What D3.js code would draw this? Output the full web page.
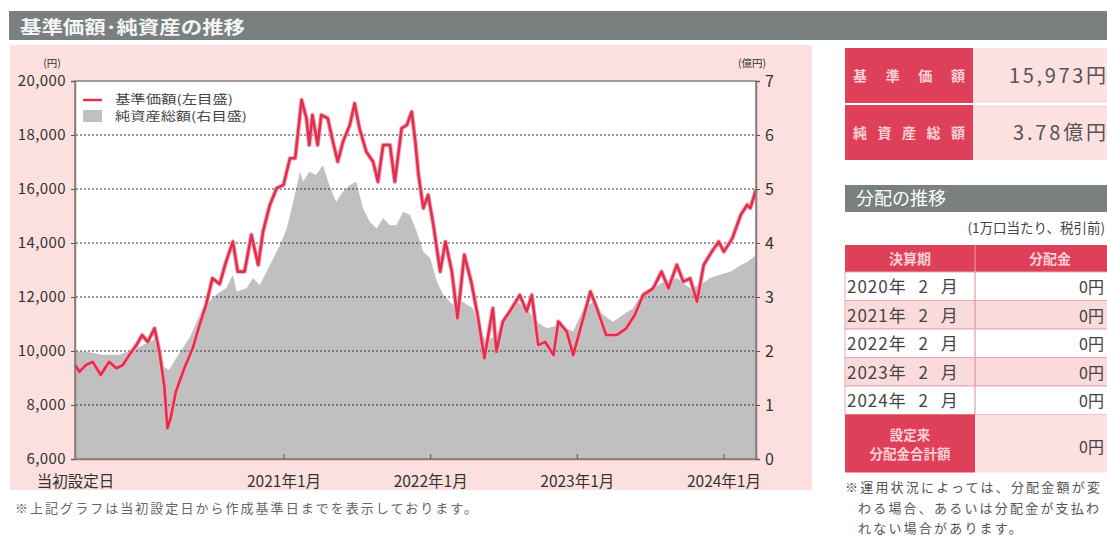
<!DOCTYPE html>
<html>
<head>
<meta charset="utf-8">
<script src="https://cdnjs.cloudflare.com/ajax/libs/d3/7.8.5/d3.min.js"></script>
<style>
  body { margin: 0; background: #fff; overflow: hidden; }
  svg text { font-family: "Noto Sans CJK JP", "Noto Sans", sans-serif; }
</style>
</head>
<body>
<script>
// 基準価額 (円)
var navDates = ["2019-08-01","2019-08-12","2019-08-28","2019-09-14","2019-10-04","2019-10-25","2019-11-12","2019-11-28","2019-12-14",
  "2020-01-01","2020-01-15","2020-01-29","2020-02-15","2020-02-27","2020-03-10","2020-03-18","2020-03-26","2020-04-08","2020-04-29",
  "2020-05-20","2020-06-06","2020-06-22","2020-07-08","2020-07-26","2020-08-11","2020-08-28","2020-09-09","2020-09-26","2020-10-13",
  "2020-10-30","2020-11-11","2020-11-28","2020-12-15","2021-01-01","2021-01-17","2021-01-30","2021-02-15","2021-02-27","2021-03-06",
  "2021-03-14","2021-03-27","2021-04-05","2021-04-21","2021-05-04","2021-05-16","2021-05-29","2021-06-15","2021-06-27","2021-07-09",
  "2021-07-26","2021-08-12","2021-08-24","2021-09-06","2021-09-23","2021-10-05","2021-10-22","2021-11-04","2021-11-16","2021-11-25",
  "2021-12-03","2021-12-15","2021-12-27","2022-01-09","2022-01-26","2022-02-08","2022-02-24","2022-03-10","2022-03-27","2022-04-13",
  "2022-04-29","2022-05-16","2022-06-06","2022-06-15","2022-07-01","2022-07-18","2022-08-12","2022-08-29","2022-09-11","2022-09-27",
  "2022-10-14","2022-11-04","2022-11-16","2022-12-07","2022-12-23","2023-01-10","2023-02-04","2023-02-20","2023-03-15","2023-04-10",
  "2023-05-04","2023-05-25","2023-06-15","2023-07-10","2023-07-31","2023-08-17","2023-09-07","2023-09-23","2023-10-10","2023-10-27",
  "2023-11-13","2023-12-03","2023-12-20","2024-01-02","2024-01-23","2024-02-13","2024-02-29","2024-03-08","2024-03-22"];
var navValues = [9500,9230,9480,9600,9110,9600,9360,9480,9850,
  10220,10590,10340,10840,9970,8740,7140,7510,8490,9360,
  10100,10960,11700,12690,12480,13310,14050,12940,12940,14300,
  13190,14420,15410,16030,16150,17140,17140,19300,18620,17630,
  18740,17630,18740,18620,17750,17010,17750,18370,19170,18250,
  17380,17010,16270,17630,17630,16270,18250,18370,18860,17750,
  16520,15290,15780,14670,12940,14050,12940,11210,13560,12570,
  11330,9730,11580,9970,11090,11460,12070,11460,12070,10220,
  10340,9850,11090,10720,9850,10840,12200,11580,10590,10590,
  10840,11330,12070,12320,12940,12320,13190,12570,12690,11830,
  13190,13680,14050,13680,14170,15040,15410,15290,15973];

// 純資産総額 (億円)
var assetDates = ["2019-08-01","2019-08-28","2019-10-08","2019-11-19","2020-01-01","2020-02-03","2020-02-20","2020-03-02","2020-03-22",
  "2020-04-08","2020-05-12","2020-06-14","2020-07-17","2020-08-11","2020-08-28","2020-09-06","2020-10-01","2020-10-17","2020-11-03",
  "2020-11-28","2020-12-23","2021-01-09","2021-01-25","2021-02-11","2021-02-19","2021-03-06","2021-03-23","2021-04-09","2021-04-25",
  "2021-05-12","2021-05-29","2021-06-15","2021-07-01","2021-07-18","2021-08-04","2021-08-21","2021-09-06","2021-09-23","2021-10-09",
  "2021-10-26","2021-11-12","2021-11-29","2021-12-15","2022-01-01","2022-01-18","2022-02-03","2022-02-27","2022-03-23","2022-04-17",
  "2022-05-04","2022-05-20","2022-06-15","2022-07-09","2022-08-04","2022-08-29","2022-09-23","2022-10-18","2022-11-20","2022-12-23",
  "2023-01-18","2023-02-12","2023-03-07","2023-04-01","2023-04-26","2023-05-21","2023-06-15","2023-07-10","2023-08-04","2023-09-07",
  "2023-10-10","2023-11-04","2023-11-29","2023-12-24","2024-01-19","2024-02-13","2024-02-29","2024-03-22"];
var assetValues = [1.99,1.99,1.93,1.93,2.05,2.17,2.24,1.74,1.65,
  1.86,2.24,2.79,3.04,3.16,3.41,3.10,3.16,3.35,3.22,
  3.59,3.96,4.27,4.76,5.32,5.14,5.32,5.26,5.44,5.07,
  4.76,4.95,5.07,5.14,4.64,4.39,4.27,4.46,4.33,4.33,
  4.58,4.52,4.20,3.84,3.72,3.28,3.04,2.85,2.91,2.79,
  2.42,2.17,2.30,2.67,2.91,2.79,2.54,2.42,2.48,2.36,
  2.79,2.91,2.67,2.54,2.67,2.79,3.10,3.16,3.28,3.35,
  3.16,3.22,3.35,3.41,3.47,3.59,3.65,3.78];

var leftTicks = [6000, 8000, 10000, 12000, 14000, 16000, 18000, 20000];
var rightTicks = [0, 1, 2, 3, 4, 5, 6, 7];
var xTickDates = ["2019-08-01", "2021-01-01", "2022-01-01", "2023-01-01", "2024-01-01"];
var xTickLabels = ["当初設定日", "2021年1月", "2022年1月", "2023年1月", "2024年1月"];

var distPeriods = ["2020年 2 月", "2021年 2 月", "2022年 2 月", "2023年 2 月", "2024年 2 月"];
var distValues = ["0円", "0円", "0円", "0円", "0円"];
var distTotal = "0円";
var latestNav = "15,973円";
var latestAssets = "3.78億円";

var parse = d3.timeParse("%Y-%m-%d");
var navData = navDates.map(function (d, i) { return { date: parse(d), value: navValues[i] }; });
var assetData = assetDates.map(function (d, i) { return { date: parse(d), value: assetValues[i] }; });

var red = "#e0304f";
var frame = "#8a7b79";

var svg = d3.select("body")
  .append("svg")
  .attr("width", 1107)
  .attr("height", 538);

// title bar
svg.append("rect")
  .attr("x", 9).attr("y", 11)
  .attr("width", 1098).attr("height", 29)
  .attr("fill", "#79807f");
svg.append("text")
  .attr("x", 20).attr("y", 34)
  .attr("fill", "#f4f4f4")
  .attr("font-size", 18).attr("font-weight", "bold")
  .attr("textLength", 225).attr("lengthAdjust", "spacingAndGlyphs")
  .text("基準価額･純資産の推移");

// pink chart panel
svg.append("rect")
  .attr("x", 10).attr("y", 45)
  .attr("width", 802).attr("height", 445)
  .attr("fill", "#fce0e0");

var x = d3.scaleTime()
  .domain([parse("2019-08-01"), parse("2024-03-22")])
  .range([75, 756]);
var yL = d3.scaleLinear().domain([6000, 20000]).range([459, 81]);
var yR = d3.scaleLinear().domain([0, 7]).range([459, 81]);

// plot background
svg.append("rect")
  .attr("x", 75).attr("y", 81)
  .attr("width", 681).attr("height", 378)
  .attr("fill", "#fff");

// net assets area
var area = d3.area()
  .x(function (d) { return x(d.date); })
  .y0(yR(0))
  .y1(function (d) { return yR(d.value); });
svg.append("path")
  .datum(assetData)
  .attr("d", area)
  .attr("fill", "#c0c0c0");

// dotted grid
var grid = svg.append("g");
leftTicks.slice(1, -1).forEach(function (v) {
  grid.append("line")
    .attr("x1", 76).attr("x2", 755)
    .attr("y1", yL(v)).attr("y2", yL(v))
    .attr("stroke", "#333")
    .attr("stroke-width", 1)
    .attr("stroke-dasharray", "2,2");
});

// nav line
var line = d3.line()
  .x(function (d) { return x(d.date); })
  .y(function (d) { return yL(d.value); });
svg.append("path")
  .datum(navData)
  .attr("d", line)
  .attr("fill", "none")
  .attr("stroke", "#f6a9b6")
  .attr("stroke-width", 4.5)
  .attr("stroke-linejoin", "round");
svg.append("path")
  .datum(navData)
  .attr("d", line)
  .attr("fill", "none")
  .attr("stroke", red)
  .attr("stroke-width", 2.6)
  .attr("stroke-linejoin", "round");

// frame
svg.append("rect")
  .attr("x", 75).attr("y", 81)
  .attr("width", 681).attr("height", 378)
  .attr("fill", "none")
  .attr("stroke", frame)
  .attr("stroke-width", 1.5);

// axes
var axL = svg.append("g")
  .attr("transform", "translate(75,0)")
  .call(d3.axisLeft(yL).tickValues(leftTicks).tickFormat(d3.format(",")).tickSize(4).tickPadding(5));
var axR = svg.append("g")
  .attr("transform", "translate(756,0)")
  .call(d3.axisRight(yR).tickValues(rightTicks).tickFormat(d3.format("d")).tickSize(4).tickPadding(5));
var axB = svg.append("g")
  .attr("transform", "translate(0,459)")
  .call(d3.axisBottom(x)
    .tickValues(xTickDates.map(parse))
    .tickFormat(function (d, i) { return xTickLabels[i]; })
    .tickSize(-5).tickPadding(17));

[axL, axR, axB].forEach(function (g) {
  g.select(".domain").attr("stroke", frame).attr("stroke-width", 1.5);
  g.selectAll(".tick line").attr("stroke", "#555");
  g.selectAll(".tick text")
    .attr("fill", "#333")
    .style("font-family", "'Noto Sans CJK JP', sans-serif");
});
axL.selectAll(".tick text").attr("font-size", 15).attr("letter-spacing", 0.4);
axR.selectAll(".tick text").attr("font-size", 16);
axB.selectAll(".tick text").attr("font-size", 15.5);
axB.select(".tick line").remove();

// unit labels
svg.append("text")
  .attr("x", 52).attr("y", 67)
  .attr("text-anchor", "middle")
  .attr("font-size", 10.5).attr("fill", "#333")
  .text("(円)");
svg.append("text")
  .attr("x", 752).attr("y", 67)
  .attr("text-anchor", "middle")
  .attr("font-size", 10.5).attr("fill", "#333")
  .text("(億円)");

// legend
svg.append("line")
  .attr("x1", 83).attr("x2", 102)
  .attr("y1", 100).attr("y2", 100)
  .attr("stroke", red).attr("stroke-width", 2.5);
svg.append("rect")
  .attr("x", 83).attr("y", 110)
  .attr("width", 19).attr("height", 12)
  .attr("fill", "#c0c0c0");
svg.append("text")
  .attr("x", 115).attr("y", 104)
  .attr("font-size", 12).attr("fill", "#444")
  .attr("textLength", 118).attr("lengthAdjust", "spacingAndGlyphs")
  .text("基準価額(左目盛)");
svg.append("text")
  .attr("x", 115).attr("y", 121)
  .attr("font-size", 12).attr("fill", "#444")
  .attr("textLength", 132).attr("lengthAdjust", "spacingAndGlyphs")
  .text("純資産総額(右目盛)");

// footnote under chart
svg.append("text")
  .attr("x", 15).attr("y", 513)
  .attr("font-size", 13).attr("fill", "#666")
  .attr("textLength", 462).attr("lengthAdjust", "spacing")
  .text("※上記グラフは当初設定日から作成基準日までを表示しております。");

// right panel: latest values
var boxes = [["基 準 価 額", latestNav, 48, 97], ["純資産総額", latestAssets, 105, 93]];
boxes.forEach(function (b) {
  svg.append("rect").attr("x", 845).attr("y", b[2]).attr("width", 128).attr("height", 55).attr("fill", "#df4059");
  svg.append("rect").attr("x", 973).attr("y", b[2]).attr("width", 140).attr("height", 55).attr("fill", "#fde0e0");
  svg.append("text")
    .attr("x", 853).attr("y", b[2] + 33)
    .attr("font-size", 14).attr("font-weight", "bold").attr("fill", "#fbd0d6")
    .attr("textLength", 112).attr("lengthAdjust", "spacing")
    .text(b[0]);
  svg.append("text")
    .attr("x", 1106).attr("y", b[2] + 35)
    .attr("text-anchor", "end")
    .attr("font-size", 20).attr("fill", "#555")
    .attr("textLength", b[3]).attr("lengthAdjust", "spacing")
    .text(b[1]);
});

// distribution section
svg.append("rect")
  .attr("x", 845).attr("y", 185)
  .attr("width", 270).attr("height", 27)
  .attr("fill", "#79807f");
svg.append("text")
  .attr("x", 856).attr("y", 205)
  .attr("font-size", 18).attr("fill", "#fff")
  .text("分配の推移");
svg.append("text")
  .attr("x", 1105).attr("y", 233)
  .attr("text-anchor", "end")
  .attr("font-size", 13.5).attr("fill", "#444")
  .text("(1万口当たり、税引前)");

// table header
svg.append("rect").attr("x", 845).attr("y", 245).attr("width", 270).attr("height", 27).attr("fill", "#df4059");
svg.append("line").attr("x1", 975).attr("x2", 975).attr("y1", 245).attr("y2", 272).attr("stroke", "#f3a0ad");
svg.append("text").attr("x", 910).attr("y", 264).attr("text-anchor", "middle")
  .attr("font-size", 14).attr("font-weight", "bold").attr("fill", "#fbd0d6").text("決算期");
svg.append("text").attr("x", 1050).attr("y", 264).attr("text-anchor", "middle")
  .attr("font-size", 14).attr("font-weight", "bold").attr("fill", "#fbd0d6").text("分配金");

var rowH = 28.5;
var rows = svg.append("g")
  .selectAll("g")
  .data(distPeriods)
  .join("g")
  .attr("transform", function (d, i) { return "translate(0," + (272 + i * rowH) + ")"; });
rows.append("rect")
  .attr("x", 845).attr("width", 270).attr("height", rowH)
  .attr("fill", function (d, i) { return i % 2 ? "#fadadb" : "#fff"; })
  .attr("stroke", "#e5a9ae").attr("stroke-width", 1);
rows.append("line")
  .attr("x1", 975).attr("x2", 975).attr("y1", 0).attr("y2", rowH)
  .attr("stroke", "#d98b94");
rows.append("text")
  .attr("x", 847).attr("y", 21)
  .attr("font-size", 17).attr("fill", "#444")
  .attr("letter-spacing", 1).attr("word-spacing", 7)
  .text(function (d) { return d; });
rows.append("text")
  .attr("x", 1104).attr("y", 21)
  .attr("text-anchor", "end")
  .attr("font-size", 16).attr("fill", "#444")
  .text(function (d, i) { return distValues[i]; });

// total row
var ty = 272 + distPeriods.length * rowH;
svg.append("rect").attr("x", 845).attr("y", ty).attr("width", 130).attr("height", 58).attr("fill", "#df4059");
svg.append("rect").attr("x", 975).attr("y", ty).attr("width", 140).attr("height", 58).attr("fill", "#fde0e0");
svg.append("text").attr("x", 910).attr("y", ty + 25).attr("text-anchor", "middle")
  .attr("font-size", 13.5).attr("font-weight", "bold").attr("fill", "#fbd0d6").text("設定来");
svg.append("text").attr("x", 910).attr("y", ty + 44).attr("text-anchor", "middle")
  .attr("font-size", 13.5).attr("font-weight", "bold").attr("fill", "#fbd0d6").text("分配金合計額");
svg.append("text").attr("x", 1104).attr("y", ty + 38).attr("text-anchor", "end")
  .attr("font-size", 16).attr("fill", "#444").text(distTotal);

// footnote right
var noteLines = ["※運用状況によっては、分配金額が変", "わる場合、あるいは分配金が支払わ", "れない場合があります。"];
svg.append("g")
  .selectAll("text")
  .data(noteLines)
  .join("text")
  .attr("x", function (d, i) { return i ? 858 : 845; })
  .attr("y", function (d, i) { return 492 + i * 20.5; })
  .attr("font-size", 13).attr("fill", "#555")
  .attr("letter-spacing", 2.2)
  .text(function (d) { return d; });
</script>
</body>
</html>
